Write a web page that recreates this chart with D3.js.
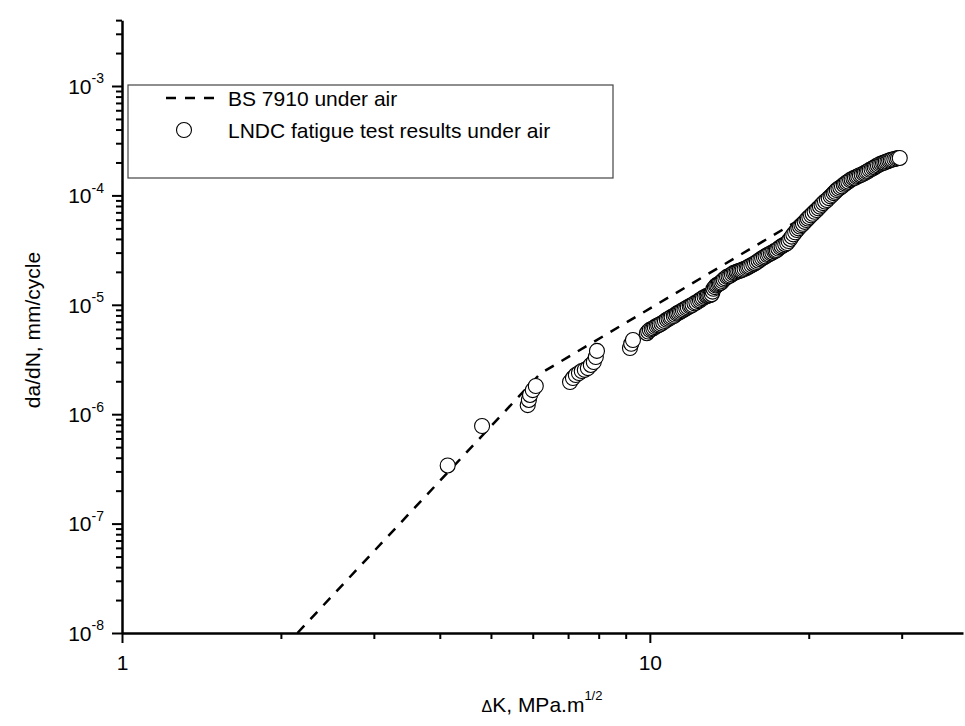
<!DOCTYPE html>
<html>
<head>
<meta charset="utf-8">
<script src="https://cdn.jsdelivr.net/npm/d3@7"></script>
<style>
  body { margin: 0; background: #fff; }
  svg { display: block; font-family: Arial, "Liberation Sans", sans-serif; }
</style>
</head>
<body>
<script>
// BS 7910 two-stage law (air): start, knee, end
var bsK = [2.15, 6.2, 19.1];
var bsRate = [1.0e-8, 2.35e-6, 5.9e-5];

// LNDC test results: early points and small clusters below dK = 10
var earlyK = [4.14, 4.81,
  5.87, 5.90, 5.93, 6.00, 6.08,
  7.06, 7.15, 7.24, 7.34, 7.43, 7.53, 7.63, 7.73, 7.83, 7.90, 7.94,
  9.17, 9.22, 9.29];
var earlyRate = [3.4e-7, 7.8e-7,
  1.21e-6, 1.35e-6, 1.50e-6, 1.66e-6, 1.81e-6,
  1.97e-6, 2.14e-6, 2.28e-6, 2.38e-6, 2.48e-6, 2.54e-6, 2.64e-6, 2.82e-6, 3.0e-6, 3.33e-6, 3.79e-6,
  4.03e-6, 4.4e-6, 4.77e-6];

// LNDC test results: the dense main band from dK ~ 10 to 30
var mainK = [9.87, 9.93, 10.0, 10.08, 10.15, 10.22, 10.3, 10.37, 10.44, 10.52, 10.6, 10.68,
  10.77, 10.85, 10.93, 11.0, 11.1, 11.17, 11.25, 11.32, 11.4, 11.47, 11.55, 11.63, 11.72, 11.8,
  11.9, 11.97, 12.05, 12.15, 12.25, 12.35, 12.44, 12.52, 12.6, 12.7, 12.8, 12.87, 12.95, 13.02,
  13.1, 13.15, 13.2, 13.28, 13.35, 13.42, 13.5, 13.57, 13.65, 13.72, 13.8, 13.9, 14.0, 14.1,
  14.2, 14.3, 14.4, 14.5, 14.6, 14.7, 14.8, 14.9, 15.0, 15.12, 15.25, 15.35, 15.45, 15.57,
  15.7, 15.82, 15.95, 16.07, 16.2, 16.32, 16.45, 16.57, 16.7, 16.82, 16.95, 17.07, 17.2, 17.3,
  17.4, 17.52, 17.65, 17.77, 17.9, 18.05, 18.2, 18.32, 18.45, 18.57, 18.7, 18.85, 19.0, 19.12,
  19.25, 19.37, 19.5, 19.65, 19.8, 19.92, 20.05, 20.2, 20.35, 20.52, 20.7, 20.85, 21.0, 21.15,
  21.3, 21.47, 21.65, 21.82, 22.0, 22.15, 22.3, 22.45, 22.6, 22.77, 22.95, 23.12, 23.3, 23.45,
  23.6, 23.77, 23.95, 24.12, 24.3, 24.47, 24.65, 24.82, 25.0, 25.2, 25.4, 25.57, 25.75, 25.92,
  26.1, 26.3, 26.5, 26.67, 26.85, 27.05, 27.25, 27.45, 27.65, 27.82, 28.0, 28.2, 28.4, 28.6,
  28.8, 29.05, 29.3, 29.52, 29.75];
var mainRate = [5.5e-6, 5.7e-6, 5.9e-6, 6.0e-6, 6.1e-6, 6.25e-6, 6.4e-6, 6.5e-6, 6.6e-6, 6.75e-6, 6.9e-6, 7.1e-6,
  7.3e-6, 7.45e-6, 7.6e-6, 7.75e-6, 7.9e-6, 8.1e-6, 8.3e-6, 8.45e-6, 8.6e-6, 8.75e-6, 8.9e-6, 9.1e-6, 9.3e-6, 9.5e-6,
  9.7e-6, 9.85e-6, 1.0e-5, 1.03e-5, 1.05e-5, 1.08e-5, 1.1e-5, 1.13e-5, 1.15e-5, 1.18e-5, 1.2e-5, 1.21e-5, 1.22e-5, 1.23e-5,
  1.25e-5, 1.32e-5, 1.4e-5, 1.45e-5, 1.5e-5, 1.52e-5, 1.55e-5, 1.57e-5, 1.6e-5, 1.65e-5, 1.7e-5, 1.75e-5, 1.8e-5, 1.82e-5,
  1.85e-5, 1.9e-5, 1.95e-5, 1.97e-5, 2.0e-5, 2.02e-5, 2.05e-5, 2.07e-5, 2.1e-5, 2.13e-5, 2.17e-5, 2.21e-5, 2.25e-5, 2.3e-5,
  2.35e-5, 2.4e-5, 2.46e-5, 2.53e-5, 2.6e-5, 2.66e-5, 2.72e-5, 2.78e-5, 2.85e-5, 2.9e-5, 2.95e-5, 3.01e-5, 3.08e-5, 3.12e-5,
  3.17e-5, 3.26e-5, 3.35e-5, 3.42e-5, 3.5e-5, 3.58e-5, 3.67e-5, 3.83e-5, 4.0e-5, 4.2e-5, 4.4e-5, 4.6e-5, 4.83e-5, 5.0e-5,
  5.2e-5, 5.35e-5, 5.5e-5, 5.73e-5, 5.96e-5, 6.15e-5, 6.35e-5, 6.57e-5, 6.8e-5, 7.08e-5, 7.36e-5, 7.63e-5, 7.9e-5, 8.2e-5,
  8.5e-5, 8.8e-5, 9.08e-5, 9.45e-5, 9.8e-5, 1.01e-4, 1.05e-4, 1.08e-4, 1.12e-4, 1.15e-4, 1.18e-4, 1.21e-4, 1.25e-4, 1.28e-4,
  1.31e-4, 1.34e-4, 1.38e-4, 1.4e-4, 1.43e-4, 1.45e-4, 1.48e-4, 1.5e-4, 1.53e-4, 1.55e-4, 1.58e-4, 1.61e-4, 1.64e-4, 1.67e-4,
  1.71e-4, 1.74e-4, 1.78e-4, 1.81e-4, 1.85e-4, 1.88e-4, 1.92e-4, 1.95e-4, 1.98e-4, 2.0e-4, 2.03e-4, 2.05e-4, 2.08e-4, 2.1e-4,
  2.13e-4, 2.15e-4, 2.17e-4, 2.19e-4, 2.2e-4];

// axis ticks
var xMajor = [1, 10];
var xMinor = [2, 3, 4, 5, 6, 7, 8, 9, 20, 30];
var yMajorExp = [-8, -7, -6, -5, -4, -3];
var yTop = 4e-3;
var legendLabels = ["BS 7910 under air", "LNDC fatigue test results under air"];

var W = 965, H = 726;
var svg = d3.select("body").append("svg").attr("width", W).attr("height", H);

// 109.4 px per decade on y, 528 px per decade on x
var x = d3.scaleLog().domain([1, 39.2]).range([122, 963]);
var y = d3.scaleLog().domain([1e-8, yTop]).range([633, 633 - 109.4 * Math.log10(yTop / 1e-8)]);

// y minor ticks: 2..9 of every decade inside the domain
var yMinor = [];
yMajorExp.forEach(function(e) {
  for (var m = 2; m <= 9; m++) {
    var v = m * Math.pow(10, e);
    if (v <= yTop * 1.0001) yMinor.push(v);
  }
});

// minor ticks first
svg.append("g").attr("transform", "translate(0,633)")
  .call(d3.axisBottom(x).tickValues(xMinor).tickSize(6).tickFormat(""))
  .call(function(g) { g.select(".domain").remove(); });
svg.append("g").attr("transform", "translate(122,0)")
  .call(d3.axisLeft(y).tickValues(yMinor).tickSize(6).tickFormat(""))
  .call(function(g) { g.select(".domain").remove(); });

// major x axis
var gx = svg.append("g").attr("transform", "translate(0,633)")
  .call(d3.axisBottom(x).tickValues(xMajor).tickSize(10).tickSizeOuter(0).tickPadding(12)
    .tickFormat(d3.format("d")));
gx.selectAll("text").attr("font-size", 21).attr("font-family", "Arial, 'Liberation Sans', sans-serif")
  .attr("fill", "#000");

// major y axis with 10^n labels
var gy = svg.append("g").attr("transform", "translate(122,0)")
  .call(d3.axisLeft(y).tickValues(yMajorExp.map(function(e) { return Math.pow(10, e); }))
    .tickSize(10).tickSizeOuter(0).tickFormat(""));
gy.selectAll(".tick").each(function(d) {
  var t = d3.select(this).append("text")
    .attr("x", -18).attr("dy", "0.35em")
    .attr("text-anchor", "end").attr("fill", "#000")
    .attr("font-size", 21);
  t.append("tspan").text("10");
  t.append("tspan").attr("font-size", 14).attr("dy", "-0.75em")
    .text(String(Math.round(Math.log10(d))));
});

svg.selectAll(".domain").attr("stroke-width", 2.5);
svg.selectAll(".tick line").attr("stroke-width", 2);

// BS 7910 dashed line
var line = d3.line().x(function(d) { return x(d[0]); }).y(function(d) { return y(d[1]); });
svg.append("path")
  .datum(d3.zip(bsK, bsRate))
  .attr("d", line)
  .attr("fill", "none").attr("stroke", "#000")
  .attr("stroke-width", 2.5).attr("stroke-dasharray", "10,9");

// test points
var pts = d3.zip(earlyK, earlyRate).concat(d3.zip(mainK, mainRate));
svg.append("g").selectAll("circle")
  .data(pts)
  .enter().append("circle")
  .attr("cx", function(d) { return x(d[0]); })
  .attr("cy", function(d) { return y(d[1]); })
  .attr("r", 7.5)
  .attr("fill", "#fff").attr("stroke", "#000").attr("stroke-width", 1.1);

// legend
var lg = svg.append("g");
lg.append("rect").attr("x", 128).attr("y", 85).attr("width", 485).attr("height", 93)
  .attr("fill", "#fff").attr("stroke", "#444").attr("stroke-width", 1.2);
lg.append("line").attr("x1", 166).attr("x2", 222).attr("y1", 98).attr("y2", 98)
  .attr("stroke", "#000").attr("stroke-width", 2.5).attr("stroke-dasharray", "10,9");
lg.append("circle").attr("cx", 184).attr("cy", 130).attr("r", 7.5)
  .attr("fill", "#fff").attr("stroke", "#000").attr("stroke-width", 1.1);
lg.selectAll("text.lab").data(legendLabels).enter().append("text")
  .attr("class", "lab")
  .attr("x", 228).attr("y", function(d, i) { return 106 + i * 32; })
  .attr("font-size", 21).attr("fill", "#000")
  .text(function(d) { return d; });

// axis titles
var xt = svg.append("text").attr("x", 542).attr("y", 712)
  .attr("text-anchor", "middle").attr("font-size", 21).attr("fill", "#000");
xt.append("tspan").attr("font-size", 16).text("\u0394");
xt.append("tspan").text("K, MPa.m");
xt.append("tspan").attr("font-size", 13).attr("dy", "-0.9em").text("1/2");

svg.append("text")
  .attr("transform", "translate(40,330) rotate(-90)")
  .attr("text-anchor", "middle").attr("font-size", 21).attr("fill", "#000")
  .text("da/dN, mm/cycle");
</script>
</body>
</html>
